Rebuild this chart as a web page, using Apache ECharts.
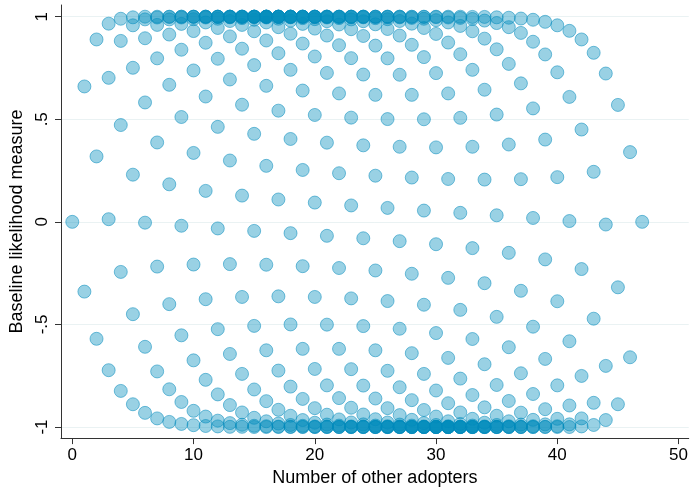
<!DOCTYPE html>
<html>
<head>
<meta charset="utf-8">
<script src="https://cdn.jsdelivr.net/npm/echarts@6/dist/echarts.min.js"></script>
<style>
  html, body { margin: 0; padding: 0; background: #fff; }
  #chart { width: 691px; height: 492px; }
</style>
</head>
<body>
<div id="chart"></div>
<script>
// number of other adopters (x) and the measure values seen at each x
const adopters = [0, 1, 2, 3, 4, 5, 6, 7, 8, 9, 10, 11, 12, 13, 14, 15, 16, 17, 18, 19, 20, 21, 22, 23,
  24, 25, 26, 27, 28, 29, 30, 31, 32, 33, 34, 35, 36, 37, 38, 39, 40, 41, 42, 43, 44, 45, 46, 47]
const measure = [
  [0],
  [-0.340, 0.660],
  [-0.570, 0.319, 0.889],
  [-0.723, 0.013, 0.702, 0.966],
  [-0.824, -0.244, 0.472, 0.882, 0.990],
  [-0.889, -0.450, 0.230, 0.751, 0.958, 0.997],
  [-0.931, -0.609, -0.004, 0.582, 0.895, 0.987, 1],
  [-0.958, -0.729, -0.218, 0.387, 0.797, 0.960, 0.996, 1],
  [-0.975, -0.816, -0.401, 0.183, 0.668, 0.913, 0.987, 0.999, 1],
  [-0.985, -0.878, -0.553, -0.019, 0.511, 0.839, 0.965, 0.996, 1, 1],
  [-0.991, -0.921, -0.675, -0.208, 0.336, 0.738, 0.930, 0.988, 0.999, 1, 1],
  [-0.995, -0.949, -0.770, -0.377, 0.151, 0.611, 0.873, 0.972, 0.996, 1, 1, 1],
  [-0.997, -0.969, -0.841, -0.523, -0.032, 0.463, 0.795, 0.945, 0.990, 0.999, 1, 1, 1],
  [-0.999, -0.981, -0.893, -0.644, -0.206, 0.299, 0.694, 0.904, 0.979, 0.997, 1, 1, 1, 1],
  [-0.999, -0.989, -0.929, -0.741, -0.366, 0.128, 0.571, 0.844, 0.960, 0.993, 0.999, 1, 1, 1, 1],
  [-1, -0.994, -0.955, -0.817, -0.507, -0.044, 0.429, 0.764, 0.929, 0.985, 0.998, 1, 1, 1, 1, 1],
  [-1, -0.996, -0.972, -0.874, -0.626, -0.209, 0.273, 0.663, 0.884, 0.972, 0.996, 1, 1, 1, 1, 1, 1],
  [-1, -0.998, -0.983, -0.916, -0.725, -0.363, 0.109, 0.542, 0.822, 0.949, 0.990, 0.999, 1, 1, 1, 1, 1],
  [-1, -0.999, -0.990, -0.945, -0.803, -0.500, -0.055, 0.404, 0.741, 0.917, 0.981, 0.997, 1, 1, 1, 1, 1],
  [-1, -0.999, -0.994, -0.966, -0.863, -0.619, -0.216, 0.253, 0.640, 0.869, 0.965, 0.993, 0.999, 1, 1, 1, 1],
  [-1, -1, -0.997, -0.979, -0.908, -0.717, -0.366, 0.094, 0.521, 0.806, 0.942, 0.988, 0.998, 1, 1, 1, 1],
  [-1, -1, -0.998, -0.988, -0.940, -0.797, -0.501, -0.068, 0.386, 0.726, 0.908, 0.978, 0.996, 1, 1, 1, 1],
  [-1, -1, -0.999, -0.993, -0.963, -0.859, -0.619, -0.225, 0.237, 0.626, 0.861, 0.962, 0.993, 0.999, 1, 1, 1],
  [-1, -1, -1, -0.997, -0.978, -0.906, -0.718, -0.373, 0.080, 0.508, 0.798, 0.939, 0.987, 0.998, 1, 1, 1],
  [-1, -1, -1, -0.998, -0.987, -0.939, -0.798, -0.508, -0.080, 0.373, 0.718, 0.906, 0.978, 0.997, 1, 1, 1],
  [-1, -1, -1, -0.999, -0.993, -0.962, -0.861, -0.626, -0.237, 0.225, 0.619, 0.859, 0.963, 0.993, 0.999, 1, 1],
  [-1, -1, -1, -1, -0.996, -0.978, -0.908, -0.726, -0.386, 0.068, 0.501, 0.797, 0.940, 0.988, 0.998, 1, 1],
  [-1, -1, -1, -1, -0.998, -0.988, -0.942, -0.806, -0.521, -0.094, 0.366, 0.717, 0.908, 0.979, 0.997, 1, 1],
  [-1, -1, -1, -1, -0.999, -0.993, -0.965, -0.869, -0.640, -0.253, 0.216, 0.619, 0.863, 0.966, 0.994, 0.999, 1],
  [-1, -1, -1, -1, -1, -0.997, -0.981, -0.917, -0.741, -0.404, 0.055, 0.500, 0.803, 0.945, 0.990, 0.999, 1],
  [-1, -1, -1, -1, -1, -0.999, -0.990, -0.949, -0.822, -0.542, -0.109, 0.363, 0.725, 0.916, 0.983, 0.998, 1],
  [-1, -1, -1, -1, -1, -1, -0.996, -0.972, -0.884, -0.663, -0.273, 0.209, 0.626, 0.874, 0.972, 0.996, 1],
  [-1, -1, -1, -1, -1, -0.998, -0.985, -0.929, -0.764, -0.429, 0.044, 0.507, 0.817, 0.955, 0.994, 1],
  [-1, -1, -1, -1, -0.999, -0.993, -0.960, -0.844, -0.571, -0.128, 0.366, 0.741, 0.929, 0.989, 0.999],
  [-1, -1, -1, -1, -0.997, -0.979, -0.904, -0.694, -0.299, 0.206, 0.644, 0.893, 0.981, 0.999],
  [-1, -1, -1, -0.999, -0.990, -0.945, -0.795, -0.463, 0.032, 0.523, 0.841, 0.969, 0.997],
  [-1, -1, -1, -0.996, -0.972, -0.873, -0.611, -0.151, 0.377, 0.770, 0.949, 0.995],
  [-1, -1, -0.999, -0.988, -0.930, -0.738, -0.336, 0.208, 0.675, 0.921, 0.991],
  [-1, -1, -0.996, -0.965, -0.839, -0.511, 0.019, 0.553, 0.878, 0.985],
  [-1, -0.999, -0.987, -0.913, -0.668, -0.183, 0.401, 0.816, 0.975],
  [-1, -0.996, -0.960, -0.797, -0.387, 0.218, 0.729, 0.958],
  [-1, -0.987, -0.895, -0.582, 0.004, 0.609, 0.931],
  [-0.997, -0.958, -0.751, -0.230, 0.450, 0.889],
  [-0.990, -0.882, -0.472, 0.244, 0.824],
  [-0.966, -0.702, -0.013, 0.723],
  [-0.889, -0.319, 0.570],
  [-0.660, 0.340],
  [0]
]
const xTicks = [0, 10, 20, 30, 40, 50]
const yTicks = [-1, -0.5, 0, 0.5, 1]
const yTickLabels = ['-1', '-.5', '0', '.5', '1']

const points = []
adopters.forEach((x, i) => {
  measure[i].forEach(v => points.push([x, v]))
})

const font = 'Liberation Sans, Arial, sans-serif'
const chart = echarts.init(document.getElementById('chart'), null, { renderer: 'canvas' })
chart.setOption({
  animation: false,
  grid: {
    left: 61,
    right: 1,
    top: 5,
    bottom: 53
  },
  xAxis: {
    type: 'value',
    min: -0.93,
    max: 50.84,
    name: 'Number of other adopters',
    nameLocation: 'middle',
    nameGap: 30,
    nameTextStyle: { fontFamily: font, fontSize: 18, color: '#000' },
    axisLine: { show: true, onZero: false, lineStyle: { color: '#333', width: 1 } },
    axisTick: { show: true, length: 6, customValues: xTicks, lineStyle: { color: '#333' } },
    axisLabel: { customValues: xTicks, margin: 9, fontFamily: font, fontSize: 17, color: '#000' },
    splitLine: { show: false }
  },
  yAxis: {
    type: 'value',
    min: -1.054,
    max: 1.057,
    name: 'Baseline likelihood measure',
    nameLocation: 'middle',
    nameGap: 33,
    nameTextStyle: { fontFamily: font, fontSize: 18, color: '#000' },
    axisLine: { show: true, onZero: false, lineStyle: { color: '#333', width: 1 } },
    axisTick: { show: true, length: 6, customValues: yTicks, lineStyle: { color: '#333' } },
    axisLabel: {
      customValues: yTicks,
      rotate: 90,
      margin: 10,
      fontFamily: font,
      fontSize: 17,
      color: '#000',
      formatter: v => yTickLabels[yTicks.indexOf(v)]
    },
    splitLine: { show: true, lineStyle: { color: '#eaf2f3', width: 1 } }
  },
  series: [
    {
      type: 'scatter',
      data: points,
      symbol: 'circle',
      symbolSize: 13,
      itemStyle: {
        color: 'rgba(0,139,188,0.5)',
        borderColor: 'rgba(0,139,188,0.65)',
        borderWidth: 1
      }
    }
  ]
})
</script>
</body>
</html>
